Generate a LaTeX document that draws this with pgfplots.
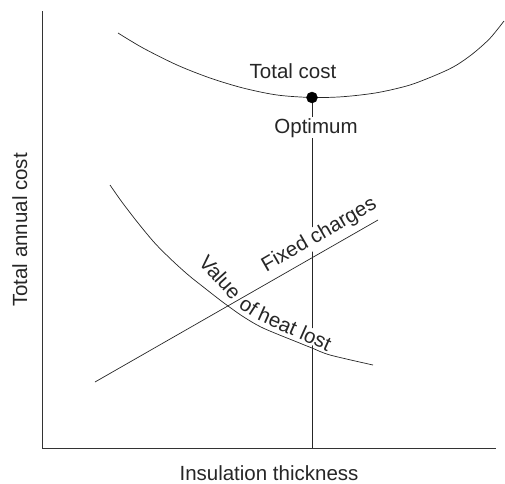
\documentclass[border=0pt]{standalone}
\usepackage{pgfplots}
\pgfplotsset{compat=1.18}
\usepackage{fontspec}
\setmainfont{Liberation Sans}
\newcommand\lbl{\fontsize{20.5}{24}\selectfont}
\begin{document}
\begin{tikzpicture}
\begin{axis}[
  scale only axis, width=454pt, height=437pt,
  xmin=42, xmax=496, ymin=35, ymax=472,
  axis x line=bottom, axis y line=left,
  axis line style={-, line width=0.9pt, color=black!80},
  xtick=\empty, ytick=\empty, clip=false,
  ln/.style={no marks, line width=0.7pt, color=black!85},
]
% Total cost
\addplot[ln, smooth] coordinates {(118,450) (143,435) (177,418) (210,405) (243,395) (277,388) (312,385.5) (343,386.3) (377,390.3) (410,398) (440,409.7) (456.7,418) (473.3,429.7) (490,444.7) (504,462)};
% Value of heat lost
\addplot[ln, smooth] coordinates {(110,298) (121.7,281.3) (138.3,259.7) (155,239.7) (171.7,223) (188.3,208) (205,194.7) (223.3,180.5) (243,166.5) (263,155) (297,141) (312,135) (330,128) (373,118)};
% Fixed charges
\addplot[ln] coordinates {(95,101) (378,263)};
% Optimum vertical line
\addplot[ln] coordinates {(312,35) (312,385.5)};
% Optimum point
\addplot[only marks, mark=*, mark size=5.5pt, black] coordinates {(312,385.5)};
\node[font=\lbl, text=black!85, anchor=base] at (axis cs:293,405) {Total cost};
\node[font=\lbl, text=black!85, anchor=base, fill=white, inner sep=1pt] at (axis cs:316,350) {Optimum};
\node[font=\lbl, text=black!85, anchor=base, rotate=30, fill=white, inner sep=1pt] at (axis cs:322,243) {Fixed charges};
\node[font=\lbl, text=black!85, anchor=base, rotate=-48, inner sep=0pt] at (axis cs:215,201) {Value};
\node[font=\lbl, text=black!85, rotate=-33, inner sep=0pt] at (axis cs:249,177) {of};
\node[font=\lbl, text=black!85, rotate=-24, fill=white, inner sep=0.3pt] at (axis cs:295,154) {heat lost};
\node[font=\lbl, text=black!85, anchor=base] at (axis cs:269,3) {Insulation thickness};
\node[font=\lbl, text=black!85, anchor=base, rotate=90] at (axis cs:27,253) {Total annual cost};
\end{axis}
\pgfresetboundingbox
\path (current axis.south west) ++(-42pt,-35pt) rectangle ++(505pt,483pt);
\end{tikzpicture}
\end{document}
